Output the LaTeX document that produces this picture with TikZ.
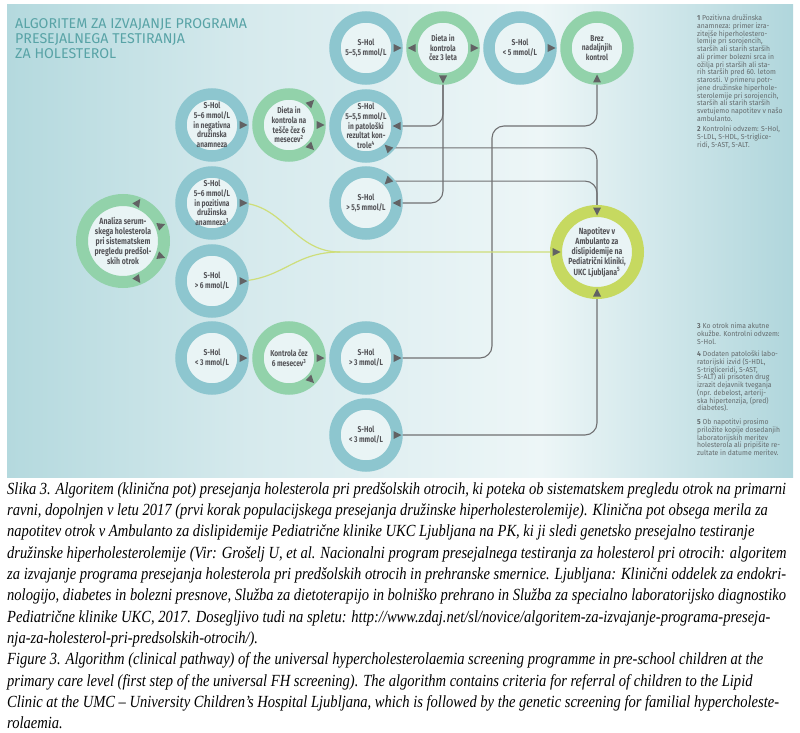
\documentclass[tikz,border=0pt]{standalone}
\usepackage{graphicx}
\usepackage{fontspec}
\setmainfont{Liberation Serif}
\newfontfamily\nodefont[FakeStretch=0.78]{Fira Sans}
\newfontfamily\notefont[FakeStretch=0.95]{Fira Sans}
\newfontfamily\titlefont{Fira Sans}
\usetikzlibrary{calc}
\pgfdeclarelayer{back}
\pgfdeclarelayer{lines}
\pgfsetlayers{back,lines,main}
\definecolor{ringb}{RGB}{141,198,207}
\definecolor{ringg}{RGB}{146,210,170}
\definecolor{ringy}{RGB}{198,217,96}
\definecolor{innerc}{RGB}{233,244,245}
\definecolor{nodec}{RGB}{84,84,88}
\definecolor{mkc}{RGB}{98,98,100}
\definecolor{connc}{RGB}{112,112,114}
\definecolor{ylc}{RGB}{206,222,122}
\definecolor{titlec}{RGB}{88,163,166}
\definecolor{notec}{RGB}{100,106,108}
\definecolor{bga}{RGB}{180,217,222}
\definecolor{bgb}{RGB}{214,234,237}
\definecolor{bgc}{RGB}{237,246,247}
\definecolor{bgd}{RGB}{176,214,220}
\newsavebox\capbox
\newlength\capw
\newcommand\mk[3]{\fill[mkc, shift={(#1.#2)}, rotate=#3] (4.5,0) -- (-3.5,4) -- (-3.5,-4) -- cycle;}
\newcommand\capfnt{\itshape\fontsize{17}{20}\selectfont}
\begin{document}
\sbox\capbox{\capfnt Slika 3. Algoritem (klinična pot) presejanja holesterola pri predšolskih otrocih, ki poteka ob sistematskem pregledu otrok na primarni}%
\setlength\capw{\wd\capbox}%
\pgfmathsetmacro\capsc{779pt/\capw}%
\begin{tikzpicture}[x=1pt, y=-1pt,
  ring/.style={circle, minimum size=62pt, inner sep=0pt, outer sep=0pt, line width=11.5pt, fill=innerc},
  rb/.style={ring, draw=ringb},
  rg/.style={ring, draw=ringg},
  bigring/.style={ring, minimum size=82pt, line width=12pt},
  txt/.style={align=center, inner sep=0pt, text=nodec, font=\nodefont\bfseries\fontsize{8.5}{9.6}\selectfont},
  bigtxt/.style={txt, font=\nodefont\bfseries\fontsize{8.9}{10.2}\selectfont},
  conn/.style={draw=connc, line width=1.1pt, rounded corners=12pt},
  yl/.style={draw=ylc, line width=1.2pt},
  note/.style={anchor=north west, inner sep=0pt, align=left, text=notec, font=\notefont\fontsize{7.2}{7.75}\selectfont},
  capl/.style={anchor=base west, inner sep=0pt, font=\capfnt}
]
\useasboundingbox (0,0) rectangle (800,733);
\begin{pgfonlayer}{back}
\fill[white] (0,0) rectangle (800,733);
\shade[left color=bga, right color=bgb] (7,5) rectangle (250.5,477);
\shade[left color=bgb, right color=bgc] (250,5) rectangle (540.5,477);
\shade[left color=bgc, right color=bgd] (540,5) rectangle (793,477);
\end{pgfonlayer}

% title
\node[anchor=north west, inner sep=0pt, align=left, text=titlec,
  font=\titlefont\fontsize{14.2}{15.3}\selectfont] (T) at (15,18)
  {ALGORITEM ZA IZVAJANJE PROGRAMA\\PRESEJALNEGA TESTIRANJA\\ZA HOLESTEROL};

% rings
\node[rb] (A1) at (366,48) {};
\node[rg] (A2) at (443,48) {};
\node[rb] (A3) at (520,48) {};
\node[rg] (A4) at (597,48) {};
\node[rb] (B1) at (212,125) {};
\node[rg] (B2) at (289,125) {};
\node[rb] (B3) at (366,126) {};
\node[rb] (C1) at (212,203) {};
\node[rb] (C3) at (366,203) {};
\node[rb] (D1) at (212,281) {};
\node[rb] (E1) at (212,358) {};
\node[rg] (E2) at (289,358) {};
\node[rb] (E3) at (366,358) {};
\node[rb] (F3) at (366,435) {};
\node[bigring, draw=ringg] (AN) at (123,241) {};
\node[bigring, draw=ringy] (N) at (597,252) {};

\coordinate (k1) at (492,126);
\coordinate (k2) at (340,252);

% connectors
\begin{pgfonlayer}{lines}
\draw[conn] (A2.south) |- (B3.east);
\draw[conn] (A2.south) |- (C3.east);
\draw[conn] (B3.-45) -| (N.north);
\draw[conn] (C3.45) -| (N.north);
\draw[conn] (E3.east) -| (k1) -| (A4.south);
\draw[conn] (F3.east) -| (N.south);
\draw[yl] (C1.east) .. controls (285,207) and (295,252) .. (k2) -- (N.west);
\draw[yl] (D1.east) .. controls (285,277) and (295,252) .. (k2);
\end{pgfonlayer}

% markers
\mk{A1}{0}{0}
\mk{A2}{180}{180} \mk{A2}{0}{0} \mk{A2}{270}{270}
\mk{A3}{0}{0}
\mk{A4}{270}{90}
\mk{B1}{0}{0}
\mk{B2}{45}{45} \mk{B2}{0}{0} \mk{B2}{-45}{-45}
\mk{B3}{0}{180} \mk{B3}{-45}{135}
\mk{C1}{0}{0}
\mk{C3}{0}{180} \mk{C3}{45}{225}
\mk{D1}{0}{0}
\mk{E1}{0}{0}
\mk{E2}{0}{0} \mk{E2}{-45}{-45}
\mk{E3}{0}{0}
\mk{F3}{0}{0}
\mk{AN}{69}{55} \mk{AN}{22}{20} \mk{AN}{-22}{-20} \mk{AN}{-69}{-55}
\mk{N}{180}{0} \mk{N}{90}{270} \mk{N}{270}{90}

% ring texts
\node[txt] (A1t) at (A1) {S-Hol\\5–5,5 mmol/L};
\node[txt] (A2t) at (A2) {Dieta in\\kontrola\\čez 3 leta};
\node[txt] (A3t) at (A3) {S-Hol\\< 5 mmol/L};
\node[txt] (A4t) at (A4) {Brez\\nadaljnjih\\kontrol};
\node[txt] (B1t) at (B1) {S-Hol\\5–6 mmol/L\\in negativna\\družinska\\anamneza};
\node[txt] (B2t) at (B2) {Dieta in\\kontrola na\\tešče čez 6\\mesecev\textsuperscript{2}};
\node[txt] (B3t) at (B3) {S-Hol\\5–5,5 mmol/L\\in patološki\\rezultat kon-\\trole\textsuperscript{4}};
\node[txt] (C1t) at (C1) {S-Hol\\5–6 mmol/L\\in pozitivna\\družinska\\anamneza\textsuperscript{1}};
\node[txt] (C3t) at (C3) {S-Hol\\> 5,5 mmol/L};
\node[txt] (D1t) at (D1) {S-Hol\\> 6 mmol/L};
\node[txt] (E1t) at (E1) {S-Hol\\< 3 mmol/L};
\node[txt] (E2t) at (E2) {Kontrola čez\\6 mesecev\textsuperscript{3}};
\node[txt] (E3t) at (E3) {S-Hol\\> 3 mmol/L};
\node[txt] (F3t) at (F3) {S-Hol\\< 3 mmol/L};
\node[bigtxt] (ANt) at (AN) {Analiza serum-\\skega holesterola\\pri sistematskem\\pregledu predšol-\\skih otrok};
\node[bigtxt] (Nt) at (N) {Napotitev v\\Ambulanto za\\dislipidemije na\\Pediatrični kliniki,\\UKC Ljubljana\textsuperscript{5}};

% notes
\node[note] (n1) at (697,14.8) {\textbf{1} Pozitivna družinska\\anamneza: primer izra-\\zitejše hiperholestero-\\lemije pri sorojencih,\\starših ali starih starših\\ali primer bolezni srca in\\ožilja pri starših ali sta-\\rih starših pred 60. letom\\starosti. V primeru potr-\\jene družinske hiperhole-\\sterolemije pri sorojencih,\\starših ali starih starših\\svetujemo napotitev v našo\\ambulanto.};
\node[note] (n2) at (697,125.8) {\textbf{2} Kontrolni odvzem: S-Hol,\\S-LDL, S-HDL, S-triglice-\\ridi, S-AST, S-ALT.};
\node[note] (n3) at (697,322.8) {\textbf{3} Ko otrok nima akutne\\okužbe. Kontrolni odvzem:\\S-Hol.};
\node[note] (n4) at (697,350.8) {\textbf{4} Dodaten patološki labo-\\ratorijski izvid (S-HDL,\\S-trigliceridi, S-AST,\\S-ALT) ali prisoten drug\\izrazit dejavnik tveganja\\(npr. debelost, arterij-\\ska hipertenzija, (pred)\\diabetes).};
\node[note] (n5) at (697,418.8) {\textbf{5} Ob napotitvi prosimo\\priložite kopije dosedanjih\\laboratorijskih meritev\\holesterola ali pripišite re-\\zultate in datume meritev.};

% caption
\node[capl] (c1) at (7,494) {\scalebox{\capsc}[1]{Slika 3. Algoritem (klinična pot) presejanja holesterola pri predšolskih otrocih, ki poteka ob sistematskem pregledu otrok na primarni}};
\node[capl] (c2) at (7,515.35) {\scalebox{\capsc}[1]{ravni, dopolnjen v letu 2017 (prvi korak populacijskega presejanja družinske hiperholesterolemije). Klinična pot obsega merila za}};
\node[capl] (c3) at (7,536.7) {\scalebox{\capsc}[1]{napotitev otrok v Ambulanto za dislipidemije Pediatrične klinike UKC Ljubljana na PK, ki ji sledi genetsko presejalno testiranje}};
\node[capl] (c4) at (7,558.05) {\scalebox{\capsc}[1]{družinske hiperholesterolemije (Vir: Grošelj U, et al. Nacionalni program presejalnega testiranja za holesterol pri otrocih: algoritem}};
\node[capl] (c5) at (7,579.4) {\scalebox{\capsc}[1]{za izvajanje programa presejanja holesterola pri predšolskih otrocih in prehranske smernice. Ljubljana: Klinični oddelek za endokri-}};
\node[capl] (c6) at (7,600.75) {\scalebox{\capsc}[1]{nologijo, diabetes in bolezni presnove, Služba za dietoterapijo in bolniško prehrano in Služba za specialno laboratorijsko diagnostiko}};
\node[capl] (c7) at (7,622.1) {\scalebox{\capsc}[1]{Pediatrične klinike UKC, 2017. Dosegljivo tudi na spletu: http://www.zdaj.net/sl/novice/algoritem-za-izvajanje-programa-preseja-}};
\node[capl] (c8) at (7,643.45) {\scalebox{\capsc}[1]{nja-za-holesterol-pri-predsolskih-otrocih/).}};
\node[capl] (c9) at (7,664.8) {\scalebox{\capsc}[1]{Figure 3. Algorithm (clinical pathway) of the universal hypercholesterolaemia screening programme in pre-school children at the}};
\node[capl] (c10) at (7,686.15) {\scalebox{\capsc}[1]{primary care level (first step of the universal FH screening). The algorithm contains criteria for referral of children to the Lipid}};
\node[capl] (c11) at (7,707.5) {\scalebox{\capsc}[1]{Clinic at the UMC – University Children’s Hospital Ljubljana, which is followed by the genetic screening for familial hypercholeste-}};
\node[capl] (c12) at (7,728.85) {\scalebox{\capsc}[1]{rolaemia.}};
\end{tikzpicture}
\end{document}
